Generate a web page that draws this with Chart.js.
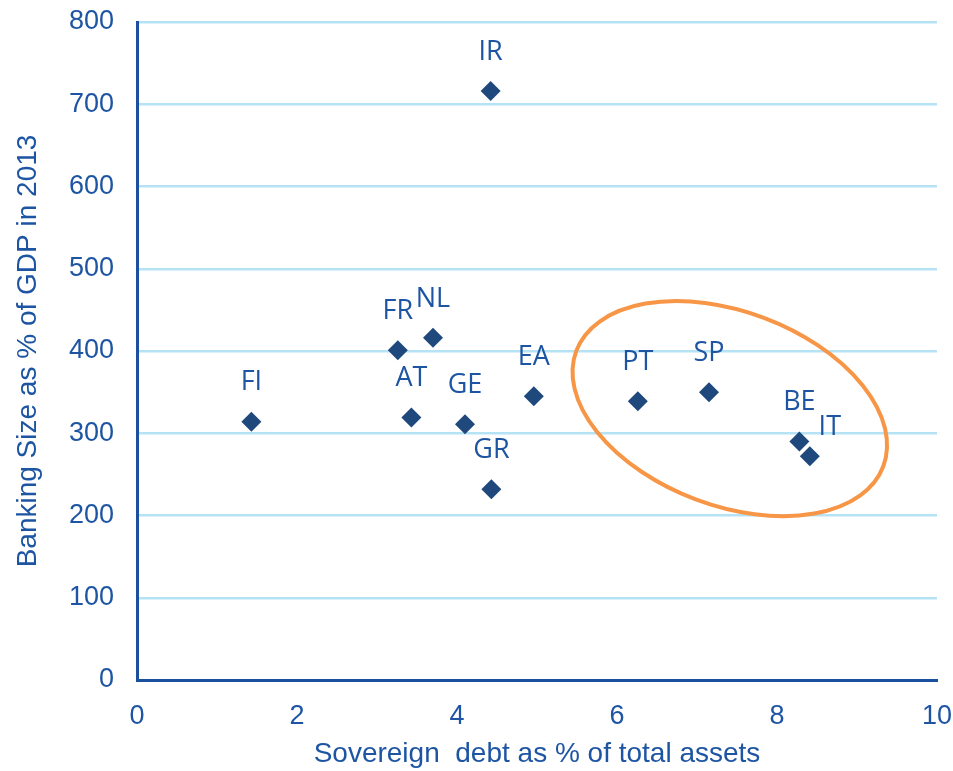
<!DOCTYPE html>
<html>
<head>
<meta charset="utf-8">
<script src="https://cdn.jsdelivr.net/npm/chart.js@4.4.1/dist/chart.umd.min.js"></script>
<style>
  html, body { margin: 0; padding: 0; background: #ffffff; }
  #wrap { width: 953px; height: 771px; }
</style>
</head>
<body>
<div id="wrap"><canvas id="chart" width="953" height="771"></canvas></div>
<script>
// Euro-area countries: sovereign debt share of bank assets vs banking size
const countries  = ['IR', 'FR', 'NL', 'FI', 'AT', 'GE', 'GR', 'EA', 'PT', 'SP', 'BE', 'IT'];
const sovDebt    = [4.42, 3.26, 3.70, 1.43, 3.43, 4.10, 4.43, 4.96, 6.26, 7.15, 8.28, 8.41];
const bankSize   = [716,  401,  416,  314,  319,  311,  232,  345,  339,  350,  290,  272];
const xTicks     = [0, 2, 4, 6, 8, 10];
const yTicks     = [0, 100, 200, 300, 400, 500, 600, 700, 800];

const xTitle = 'Sovereign  debt as % of total assets';
const yTitle = 'Banking Size as % of GDP in 2013';

// Label placement relative to each marker (pixels); default is centred above
const labelShift = { IT: { dx: 20, dy: -29 } };
const defaultShift = { dx: 0, dy: -39 };

// Highlight ring around the high-exposure group
const ring = { cx: 7.41, cy: 330, rx: 164, ry: 97, angleDeg: 20.6, color: '#f79646', width: 4 };

const AXIS_BLUE = '#1b50a0';
const TEXT_BLUE = '#1e55a3';
const GRID_BLUE = '#b6e2f6';
const MARK_NAVY = '#1f497d';

const points = countries.map((c, i) => ({ x: sovDebt[i], y: bankSize[i], label: c }));

const pointLabels = {
  id: 'pointLabels',
  afterDatasetsDraw(chart) {
    const ctx = chart.ctx;
    const meta = chart.getDatasetMeta(0);
    ctx.save();
    ctx.font = '27px "Open Sans"';
    ctx.fillStyle = TEXT_BLUE;
    ctx.textAlign = 'center';
    ctx.textBaseline = 'middle';
    meta.data.forEach((el, i) => {
      const name = countries[i];
      const s = labelShift[name] || defaultShift;
      ctx.fillText(name, el.x + s.dx, el.y + s.dy);
    });
    ctx.restore();
  }
};

const highlightRing = {
  id: 'highlightRing',
  afterDatasetsDraw(chart) {
    const { ctx, scales } = chart;
    const cx = scales.x.getPixelForValue(ring.cx);
    const cy = scales.y.getPixelForValue(ring.cy);
    ctx.save();
    ctx.beginPath();
    ctx.ellipse(cx, cy, ring.rx, ring.ry, ring.angleDeg * Math.PI / 180, 0, Math.PI * 2);
    ctx.strokeStyle = ring.color;
    ctx.lineWidth = ring.width;
    ctx.stroke();
    ctx.restore();
  }
};

new Chart(document.getElementById('chart'), {
  type: 'scatter',
  data: {
    datasets: [{
      data: points,
      pointStyle: 'rectRot',
      pointRadius: 10,
      pointHoverRadius: 10,
      backgroundColor: MARK_NAVY,
      borderColor: MARK_NAVY,
      borderWidth: 0
    }]
  },
  options: {
    responsive: false,
    animation: false,
    layout: { padding: { left: 0, right: 16, top: 22, bottom: 0 } },
    plugins: { legend: { display: false }, tooltip: { enabled: false } },
    scales: {
      x: {
        type: 'linear',
        min: 0, max: 10,
        afterBuildTicks: (s) => { s.ticks = xTicks.map(v => ({ value: v })); },
        afterFit: (s) => { s.height = 91; s.paddingLeft = 0; s.paddingRight = 0; },
        grid: { display: false, drawTicks: false },
        border: { display: true, color: AXIS_BLUE, width: 3 },
        ticks: {
          padding: 20,
          color: TEXT_BLUE,
          font: { family: '"Liberation Sans", Arial', size: 27 },
          maxRotation: 0
        },
        title: {
          display: true,
          text: xTitle,
          color: TEXT_BLUE,
          font: { family: '"Liberation Sans", Arial', size: 28 },
          padding: { top: 0, bottom: 0 }
        }
      },
      y: {
        type: 'linear',
        min: 0, max: 800,
        afterBuildTicks: (s) => { s.ticks = yTicks.map(v => ({ value: v })); },
        afterFit: (s) => { s.width = 137; s.paddingTop = 0; s.paddingBottom = 0; },
        grid: { color: GRID_BLUE, lineWidth: 2.5, drawTicks: false },
        border: { display: true, color: AXIS_BLUE, width: 3 },
        ticks: {
          padding: 23,
          color: TEXT_BLUE,
          font: { family: '"Liberation Sans", Arial', size: 27 }
        },
        title: {
          display: true,
          text: yTitle,
          color: TEXT_BLUE,
          font: { family: '"Liberation Sans", Arial', size: 28 },
          padding: { top: 11, bottom: 0 }
        }
      }
    }
  },
  plugins: [pointLabels, highlightRing]
});
</script>
</body>
</html>
